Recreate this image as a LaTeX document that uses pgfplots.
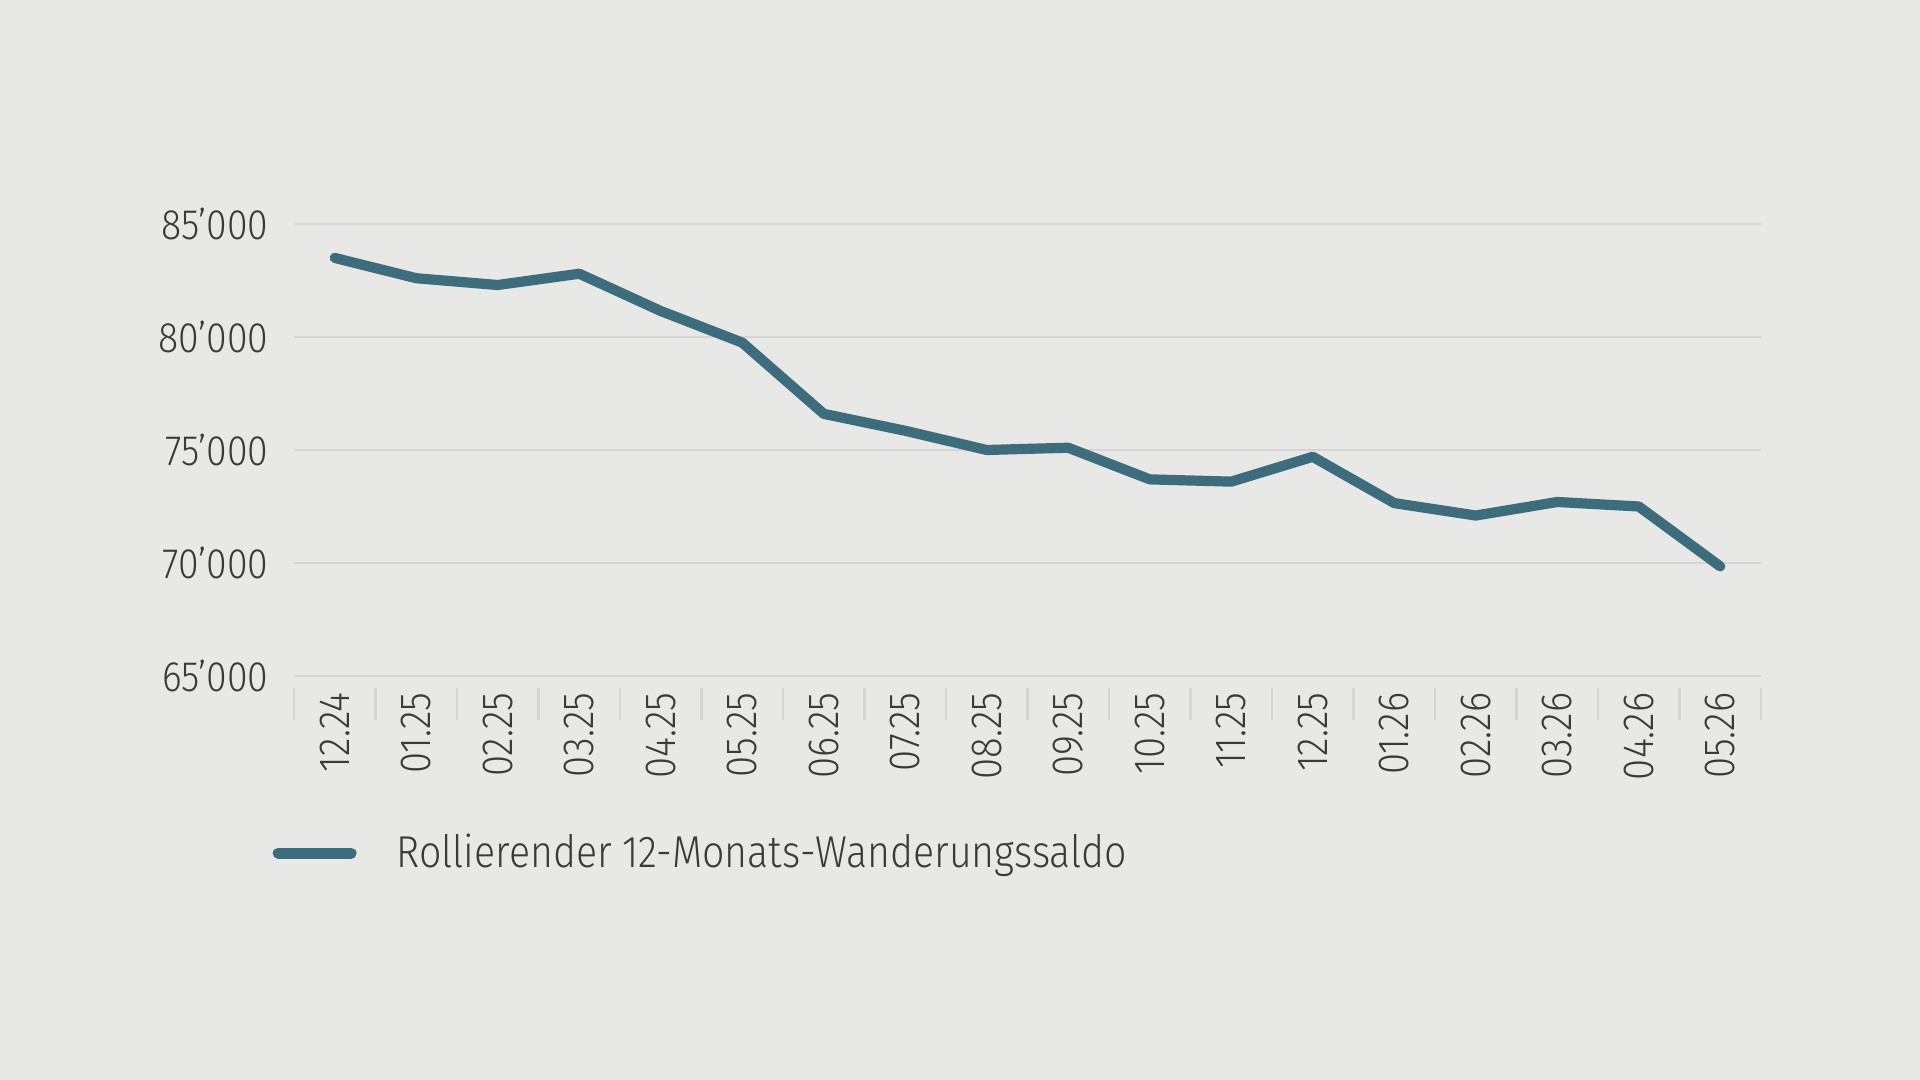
\documentclass[border=0pt]{standalone}
\usepackage{fontspec}
\setmainfont{Fira Sans Light}[FakeStretch=0.88]
\usepackage{pgfplots}
\pgfplotsset{compat=1.18}

\definecolor{bg}{HTML}{E8E8E6}
\definecolor{linecol}{HTML}{3D6C7C}
\definecolor{gridcol}{HTML}{D5D5D3}
\definecolor{txt}{HTML}{3A3A3A}

\begin{document}
\begin{tikzpicture}
\fill[bg] (0,0) rectangle (19.2,10.8);
\begin{axis}[
    at={(2.94cm,4.04cm)}, anchor=south west,
    scale only axis, width=14.67cm, height=4.52cm,
    xmin=-0.5, xmax=17.5, ymin=65000, ymax=85000,
    axis line style={draw=none},
    scaled y ticks=false,
    ymajorgrids, grid style={gridcol, line width=0.75pt},
    ytick={65000,70000,75000,80000,85000},
    yticklabels={65’000,70’000,75’000,80’000,85’000},
    ytick style={draw=none},
    yticklabel style={font=\fontsize{12.1}{14}\selectfont, text=txt, inner sep=0pt},
    yticklabel shift=0.25cm,
    xtick={0,...,17},
    xticklabels={12.24,01.25,02.25,03.25,04.25,05.25,06.25,07.25,08.25,09.25,10.25,11.25,12.25,01.26,02.26,03.26,04.26,05.26},
    xticklabel style={rotate=90, anchor=east, font=\fontsize{12.4}{14}\selectfont, text=txt, inner sep=0pt},
    xticklabel shift=0.16cm,
    xtick pos=bottom, tick align=outside,
    major tick length=0pt,
    minor xtick={-0.5,0.5,...,17.5},
    minor tick length=0.32cm,
    minor x tick style={draw=gridcol, line width=0.75pt, yshift=-0.12cm},
    legend style={at={(axis description cs:-0.015,-0.392)}, anchor=west,
        draw=none, fill=none, inner sep=0pt,
        nodes={inner sep=0pt, text=txt},
        font=\fontsize{12.7}{14}\selectfont,
        /tikz/every odd column/.append style={column sep=0.40cm}},
    legend image code/.code={\draw[#1, line width=3.1pt, line cap=round] (0.05cm,0cm) -- (0.78cm,0cm);},
]
\addplot[linecol, line width=2.9pt, line cap=round, line join=round] coordinates {
    (0,83500) (1,82600) (2,82300) (3,82800) (4,81150) (5,79750)
    (6,76600) (7,75850) (8,75000) (9,75100) (10,73700) (11,73600)
    (12,74700) (13,72650) (14,72100) (15,72700) (16,72500) (17,69850)
};
\addlegendentry{Rollierender 12-Monats-Wanderungssaldo}
\end{axis}
\end{tikzpicture}
\end{document}
